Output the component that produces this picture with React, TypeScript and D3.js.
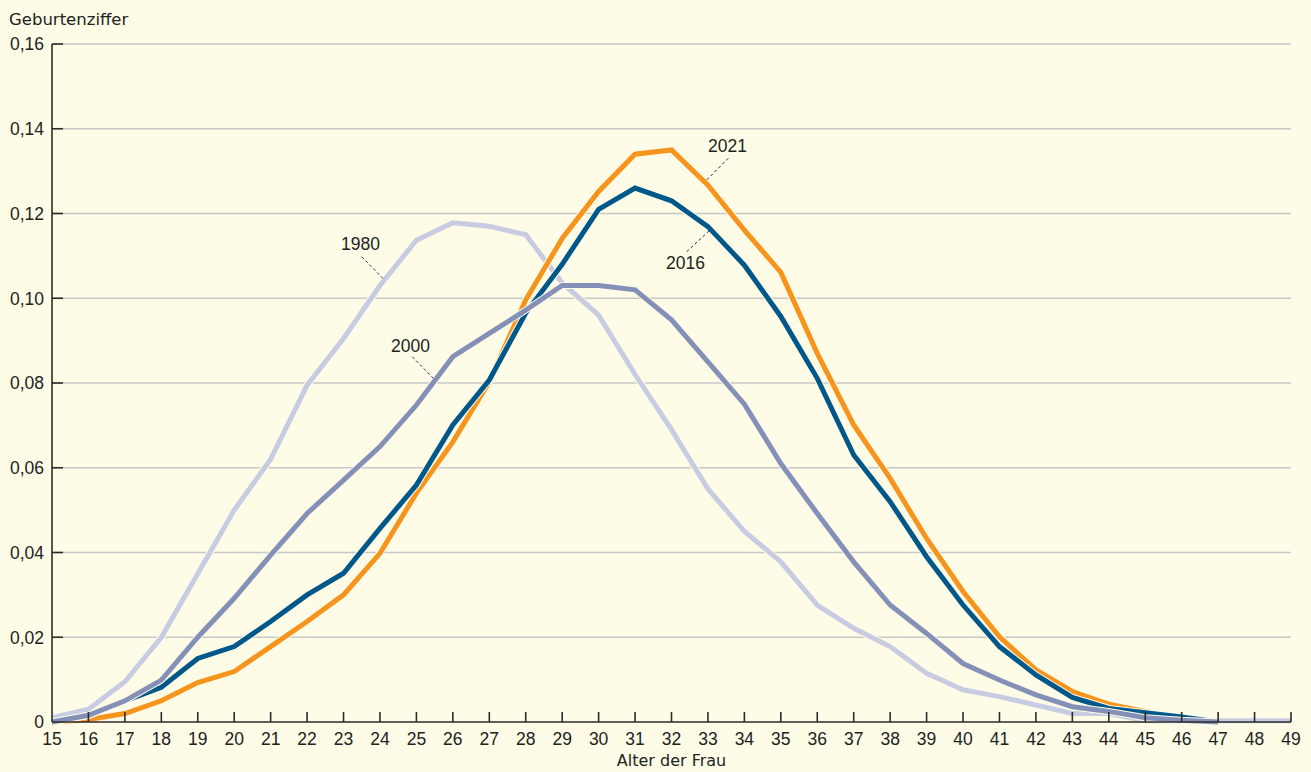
import {default as React} from "react";
import * as d3 from "d3";

// Alter der Frau (x-Achse)
const ages = [15, 16, 17, 18, 19, 20, 21, 22, 23, 24, 25, 26, 27, 28, 29, 30, 31, 32,
    33, 34, 35, 36, 37, 38, 39, 40, 41, 42, 43, 44, 45, 46, 47, 48, 49];

const yTicks = [0, 0.02, 0.04, 0.06, 0.08, 0.10, 0.12, 0.14, 0.16];

// Geburtenziffern je Altersjahr
const values1980 = [0.001, 0.003, 0.0095, 0.020, 0.035, 0.050, 0.062, 0.0795, 0.0905, 0.103,
    0.1137, 0.1178, 0.117, 0.115, 0.1036, 0.096, 0.082, 0.069, 0.055, 0.045,
    0.0378, 0.0276, 0.0221, 0.0178, 0.0115, 0.0076, 0.006, 0.004, 0.002, 0.002,
    0.0003, 0.0003, 0.0003, 0.0003, 0.0003];

const values2000 = [0, 0.0016, 0.005, 0.0099, 0.020, 0.0292, 0.0394, 0.0492, 0.0571, 0.065,
    0.0748, 0.0862, 0.0917, 0.0972, 0.103, 0.103, 0.102, 0.0949, 0.085, 0.075,
    0.061, 0.0492, 0.0378, 0.0276, 0.0209, 0.0138, 0.0099, 0.0064, 0.0036, 0.0025,
    0.001, 0.0004, 0];

const values2016 = [0, 0.0015, 0.005, 0.0082, 0.015, 0.0178, 0.0237, 0.030, 0.0351, 0.0457,
    0.0559, 0.0701, 0.0807, 0.0965, 0.108, 0.121, 0.126, 0.123, 0.1169, 0.1078,
    0.0957, 0.0811, 0.063, 0.052, 0.039, 0.0276, 0.0178, 0.0111, 0.0058, 0.0032,
    0.0022, 0.0012, 0];

const values2021 = [0, 0.0006, 0.002, 0.005, 0.0093, 0.0119, 0.0178, 0.0237, 0.030, 0.0398,
    0.054, 0.0661, 0.0803, 0.0996, 0.1141, 0.1252, 0.134, 0.135, 0.1267, 0.1161,
    0.1061, 0.087, 0.0701, 0.0575, 0.0433, 0.0308, 0.0201, 0.0123, 0.0072, 0.0042,
    0.0025, 0.001, 0];

const width = 1311;
const height = 772;
const margin = {left: 52, right: 20, top: 44, bottom: 50};
const bg = "#fefce6";

const numFont = "'Liberation Sans', Arial, sans-serif";
const textFont = "'DejaVu Sans', sans-serif";

const de = d3.formatLocale({decimal: ",", thousands: ".", grouping: [3], currency: ["", "€"]});
const fmt = (v: number) => (v === 0 ? "0" : de.format(".2f")(v));

export default function App() {
    const x = d3.scaleLinear().domain([15, 49]).range([margin.left, width - margin.right]);
    const y = d3.scaleLinear().domain([0, 0.16]).range([height - margin.bottom, margin.top]);

    const line = d3.line<number>()
        .x((d, i) => x(ages[i]))
        .y(d => y(d));

    // Zeichenreihenfolge: unten zuerst
    const series = [
        {name: "1980", values: values1980, color: "#c8cce2"},
        {name: "2021", values: values2021, color: "#f7941d"},
        {name: "2016", values: values2016, color: "#00578a"},
        {name: "2000", values: values2000, color: "#8590b8"},
    ];

    // Beschriftungen mit gestrichelten Hinweislinien (Alter, Wert)
    const labels = [
        {text: "1980", tx: 341, ty: 250, from: [361.7, 256.7], to: [382.7, 278.3]},
        {text: "2000", tx: 391, ty: 351.5, from: [412.3, 356.7], to: [433.3, 378.3]},
        {text: "2021", tx: 708, ty: 152, from: [728.3, 158.3], to: [706.7, 180]},
        {text: "2016", tx: 666, ty: 269, from: [686.7, 251.7], to: [710, 230]},
    ];

    const x0 = x(15), x1 = x(49), yBase = y(0);

    return (
        <svg width={width} height={height}
             style={{position: "fixed", left: 0, top: 0, display: "block", background: bg}}>
            <rect width={width} height={height} fill={bg}/>

            {/* Gitterlinien */}
            {yTicks.filter(t => t > 0).map(t => (
                <line key={"g" + t} x1={x0} x2={x1} y1={y(t)} y2={y(t)}
                      stroke="#c6c7c9" strokeWidth={1.4}/>
            ))}

            {/* Kurven */}
            {series.map(s => (
                <g key={s.name}>
                    <path d={line(s.values) || ""} fill="none" stroke={bg} strokeWidth={7}
                          strokeLinejoin="miter"/>
                    <path d={line(s.values) || ""} fill="none" stroke={s.color} strokeWidth={5}
                          strokeLinejoin="miter"/>
                </g>
            ))}

            {/* Achsen */}
            <line x1={x0} x2={x0} y1={y(0.16)} y2={yBase} stroke="#2b2b2b" strokeWidth={1.6}/>
            <line x1={x0} x2={x1} y1={yBase} y2={yBase} stroke="#2b2b2b" strokeWidth={1.6}/>
            {yTicks.map(t => (
                <g key={"y" + t}>
                    {t > 0 && <line x1={x0} x2={x0 + 11} y1={y(t)} y2={y(t)} stroke="#2b2b2b" strokeWidth={1.6}/>}
                    <text x={44} y={y(t)} dy="0.36em" textAnchor="end" fontFamily={numFont}
                          fontSize={17.5} fill="#222">{fmt(t)}</text>
                </g>
            ))}
            {ages.map(a => (
                <g key={"x" + a}>
                    {a > 15 && <line x1={x(a)} x2={x(a)} y1={yBase} y2={yBase - 10} stroke="#2b2b2b" strokeWidth={1.6}/>}
                    <text x={x(a)} y={745} textAnchor="middle" fontFamily={numFont}
                          fontSize={17.5} fill="#222">{a}</text>
                </g>
            ))}

            <text x={9} y={25} fontFamily={textFont} fontSize={16.5} fill="#222">Geburtenziffer</text>
            <text x={(x0 + x1) / 2} y={766} textAnchor="middle" fontFamily={textFont}
                  fontSize={16} fill="#222">Alter der Frau</text>

            {labels.map(l => (
                <g key={"l" + l.text}>
                    <line x1={l.from[0]} y1={l.from[1]} x2={l.to[0]} y2={l.to[1]}
                          stroke="#333" strokeWidth={1} strokeDasharray="3,2.5"/>
                    <text x={l.tx} y={l.ty} fontFamily={numFont} fontSize={17.5} fill="#222">{l.text}</text>
                </g>
            ))}
        </svg>
    );
}
